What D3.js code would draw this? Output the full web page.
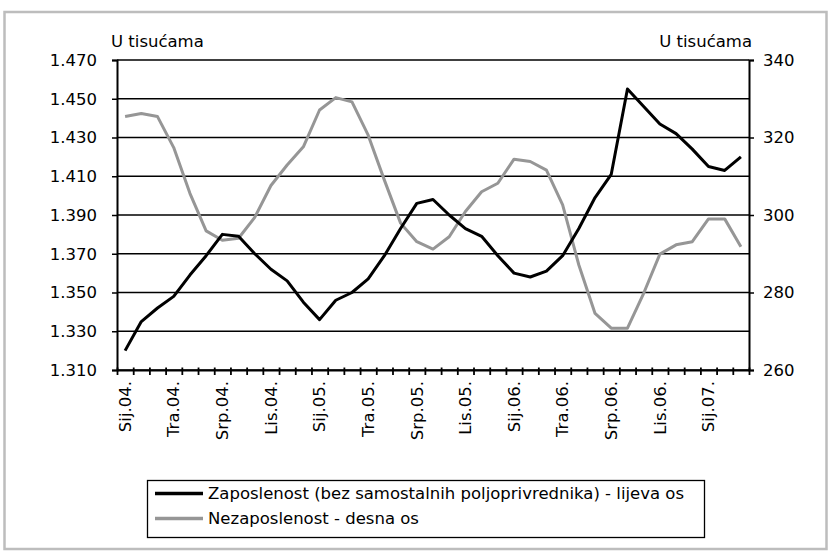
<!DOCTYPE html>
<html>
<head>
<meta charset="utf-8">
<script src="https://cdn.jsdelivr.net/npm/d3@7"></script>
<style>
  html, body { margin: 0; padding: 0; background: #fff; }
  svg { display: block; }
  text { font-family: "DejaVu Sans", sans-serif; fill: #000; }
</style>
</head>
<body>
<svg id="chart" width="830" height="552"></svg>
<script>
// ---- data ----
const categories = [
  "Sij.04.","Velj.04.","Ožu.04.","Tra.04.","Svi.04.","Lip.04.","Srp.04.","Kol.04.","Ruj.04.","Lis.04.","Stu.04.","Pro.04.",
  "Sij.05.","Velj.05.","Ožu.05.","Tra.05.","Svi.05.","Lip.05.","Srp.05.","Kol.05.","Ruj.05.","Lis.05.","Stu.05.","Pro.05.",
  "Sij.06.","Velj.06.","Ožu.06.","Tra.06.","Svi.06.","Lip.06.","Srp.06.","Kol.06.","Ruj.06.","Lis.06.","Stu.06.","Pro.06.",
  "Sij.07.","Velj.07.","Ožu.07."
];
const shownLabels = ["Sij.04.","Tra.04.","Srp.04.","Lis.04.","Sij.05.","Tra.05.","Srp.05.","Lis.05.","Sij.06.","Tra.06.","Srp.06.","Lis.06.","Sij.07."];
const employment = [
  1.320,1.335,1.342,1.348,1.359,1.369,1.380,1.379,1.370,1.362,1.356,1.345,
  1.336,1.346,1.350,1.357,1.369,1.383,1.396,1.398,1.390,1.383,1.379,1.369,
  1.360,1.358,1.361,1.369,1.383,1.399,1.411,1.455,1.446,1.437,1.432,1.424,
  1.415,1.413,1.420
];
const unemployment = [
  325.4,326.2,325.4,317.4,305.6,295.9,293.5,294.0,299.4,307.6,312.9,317.6,
  327.1,330.3,329.2,320.6,309.0,297.9,293.1,291.2,294.4,300.9,306.0,308.2,
  314.4,313.8,311.6,302.6,287.1,274.6,270.8,270.8,279.8,289.9,292.3,293.1,
  299.0,299.0,291.8
];
const leftTicks = [1.310,1.330,1.350,1.370,1.390,1.410,1.430,1.450,1.470];
const rightTicks = [260,280,300,320,340];
const seriesNames = ["Zaposlenost (bez samostalnih poljoprivrednika) - lijeva os","Nezaposlenost - desna os"];
const unitLabel = "U tisućama";

// ---- layout ----
const svg = d3.select("#chart");
const L = 117, R = 749, T = 60, B = 370;
const FS = 16.5;

// outer frame
svg.append("rect").attr("x", 4.5).attr("y", 12).attr("width", 822).attr("height", 537)
  .attr("fill", "none").attr("stroke", "#bdbdbd").attr("stroke-width", 2.5);

const x = d3.scaleBand().domain(categories).range([L, R]).padding(0);
const yL = d3.scaleLinear().domain([1.310, 1.470]).range([B, T]);
const yR = d3.scaleLinear().domain([260, 340]).range([B, T]);
const cx = d => x(d) + x.bandwidth() / 2;

// gridlines
svg.append("g").selectAll("line").data(leftTicks).join("line")
  .attr("x1", L).attr("x2", R).attr("y1", d => yL(d)).attr("y2", d => yL(d))
  .attr("stroke", "#000").attr("stroke-width", 1.4);

// left axis
const gL = svg.append("g").attr("transform", `translate(${L},0)`)
  .call(d3.axisLeft(yL).tickValues(leftTicks).tickFormat(d3.format(".3f")).tickSize(5).tickPadding(15));
gL.select(".domain").attr("stroke-width", 2);
gL.selectAll(".tick line").attr("stroke-width", 1.5);
gL.selectAll("text").style("font-size", FS + "px");

// right axis
const gR = svg.append("g").attr("transform", `translate(${R},0)`)
  .call(d3.axisRight(yR).tickValues(rightTicks).tickFormat(d3.format("d")).tickSize(5).tickPadding(9));
gR.select(".domain").attr("stroke-width", 2);
gR.selectAll(".tick line").attr("stroke-width", 1.5);
gR.selectAll("text").style("font-size", FS + "px");

// bottom axis (category boundaries as ticks)
const xb = d3.scaleLinear().domain([0, categories.length]).range([L, R]);
const gB = svg.append("g").attr("transform", `translate(0,${B})`)
  .call(d3.axisBottom(xb).tickValues(d3.range(categories.length + 1)).tickFormat("").tickSize(5).tickSizeOuter(0));
gB.select(".domain").attr("stroke-width", 2);
gB.selectAll(".tick line").attr("y1", -2.5).attr("stroke-width", 1.8);

svg.append("g").selectAll("text").data(shownLabels).join("text")
  .attr("transform", d => `translate(${cx(d)},${B + 11}) rotate(-90)`)
  .attr("text-anchor", "end").attr("dy", "0.35em")
  .style("font-size", FS + "px").text(d => d);

// unit labels
svg.append("text").attr("x", 111).attr("y", 47).style("font-size", FS + "px").text(unitLabel);
svg.append("text").attr("x", 752).attr("y", 47).attr("text-anchor", "end").style("font-size", FS + "px").text(unitLabel);

// series
const lineL = d3.line().x((d, i) => cx(categories[i])).y(d => yL(d));
const lineR = d3.line().x((d, i) => cx(categories[i])).y(d => yR(d));
svg.append("path").datum(unemployment).attr("d", lineR)
  .attr("fill", "none").attr("stroke", "#969696").attr("stroke-width", 3).attr("stroke-linejoin", "round");
svg.append("path").datum(employment).attr("d", lineL)
  .attr("fill", "none").attr("stroke", "#000").attr("stroke-width", 3).attr("stroke-linejoin", "round");

// legend
const lg = svg.append("g");
lg.append("rect").attr("x", 147.5).attr("y", 480.5).attr("width", 557).attr("height", 57)
  .attr("fill", "#fff").attr("stroke", "#000").attr("stroke-width", 1.3);
const legendColors = ["#000", "#969696"];
seriesNames.forEach((name, i) => {
  const yy = 493.5 + i * 25;
  lg.append("line").attr("x1", 155).attr("x2", 203).attr("y1", yy).attr("y2", yy)
    .attr("stroke", legendColors[i]).attr("stroke-width", 3.5);
  lg.append("text").attr("x", 208).attr("y", yy).attr("dy", "0.35em")
    .style("font-size", FS + "px").text(name);
});
</script>
</body>
</html>
